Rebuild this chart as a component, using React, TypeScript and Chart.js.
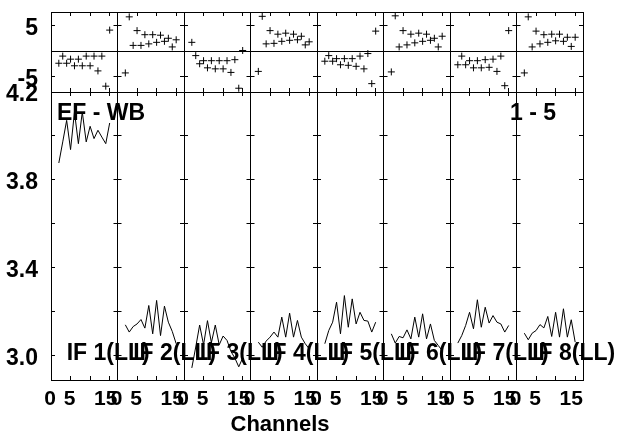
import React, { useEffect, useRef } from "react";
import { Chart, registerables } from "chart.js";

Chart.register(...registerables);

// ---------------- data ----------------
const CHANNELS = [2, 3, 4, 5, 6, 7, 8, 9, 10, 11, 12, 13, 14, 15];

const IF_LABELS = ["IF 1(LL)", "IF 2(LL)", "IF 3(LL)", "IF 4(LL)", "IF 5(LL)", "IF 6(LL)", "IF 7(LL)", "IF 8(LL)"];
const SOURCE_LABEL = "EF - WB";
const BASELINE_LABEL = "1 - 5";
const X_TITLE = "Channels";

// phase (degrees) per IF, channels 2..15
const PHASE_IF1 = [-2.4, -1.0, -2.4, -1.6, -2.9, -1.6, -2.9, -1.0, -2.9, -1.0, -3.9, -1.0, -6.9, 4.1];
const PHASE_IF2 = [-4.3, 6.7, 1.1, 4.0, 1.1, 3.2, 1.4, 3.2, 1.7, 3.1, 1.9, 2.5, 0.8, 2.2];
const PHASE_IF3 = [1.7, -0.9, -2.5, -1.9, -3.3, -1.9, -3.5, -1.9, -3.5, -1.9, -4.2, -1.7, -7.3, 0.1];
const PHASE_IF4 = [-4.0, 6.8, 1.4, 4.0, 1.5, 3.3, 1.9, 3.5, 2.1, 3.3, 2.2, 2.9, 1.2, 1.8];
const PHASE_IF5 = [-2.0, -0.9, -2.0, -1.5, -2.7, -1.5, -2.8, -1.5, -3.0, -1.0, -3.5, -0.5, -6.4, 3.9];
const PHASE_IF6 = [-4.1, 6.9, 0.8, 4.0, 1.2, 3.3, 1.6, 3.5, 1.9, 3.3, 2.1, 2.5, 0.8, 2.9];
const PHASE_IF7 = [-2.7, -1.0, -2.7, -1.9, -3.3, -1.9, -3.3, -1.7, -3.2, -1.6, -4.0, -1.0, -6.8, 4.0];
const PHASE_IF8 = [-4.3, 6.7, 0.8, 3.9, 1.4, 3.2, 1.7, 3.3, 2.0, 3.3, 1.9, 2.7, 0.9, 2.7];

// amplitude per IF, channels 2..15
const AMP_IF1 = [3.877, 3.973, 4.071, 3.938, 4.109, 3.965, 4.109, 3.973, 4.044, 3.988, 4.026, 3.995, 3.965, 4.059];
const AMP_IF2 = [3.141, 3.108, 3.133, 3.145, 3.165, 3.126, 3.229, 3.1, 3.252, 3.092, 3.226, 3.153, 3.111, 3.055];
const AMP_IF3 = [2.945, 3.04, 3.14, 3.05, 3.16, 3.06, 3.14, 3.05, 3.09, 3.07, 3.02, 2.99, 2.95, 2.99];
const AMP_IF4 = [3.062, 3.039, 3.067, 3.085, 3.108, 3.085, 3.176, 3.085, 3.194, 3.085, 3.161, 3.085, 3.055, 3.032];
const AMP_IF5 = [3.055, 3.115, 3.153, 3.244, 3.1, 3.274, 3.13, 3.259, 3.145, 3.198, 3.161, 3.158, 3.108, 3.153];
const AMP_IF6 = [3.1, 3.058, 3.088, 3.082, 3.118, 3.077, 3.176, 3.085, 3.191, 3.077, 3.145, 3.07, 3.047, 3.024];
const AMP_IF7 = [3.058, 3.092, 3.138, 3.198, 3.123, 3.255, 3.13, 3.221, 3.149, 3.183, 3.153, 3.145, 3.108, 3.138];
const AMP_IF8 = [3.103, 3.073, 3.103, 3.115, 3.142, 3.127, 3.179, 3.088, 3.198, 3.085, 3.214, 3.085, 3.164, 3.062];

const PHASE_SERIES = [PHASE_IF1, PHASE_IF2, PHASE_IF3, PHASE_IF4, PHASE_IF5, PHASE_IF6, PHASE_IF7, PHASE_IF8];
const AMP_SERIES = [AMP_IF1, AMP_IF2, AMP_IF3, AMP_IF4, AMP_IF5, AMP_IF6, AMP_IF7, AMP_IF8];

// axes
const X_MIN = 0;
const X_MAX = 17;
const X_TICKS = [0, 5, 10, 15];
const X_TICK_LABELS = ["0", "5", "", "15"];

const AMP_MIN = 2.89;
const AMP_MAX = 4.2;
const AMP_TICKS = [3.0, 3.2, 3.4, 3.6, 3.8, 4.0, 4.2];
const AMP_TICK_LABELS = ["3.0", "", "3.4", "", "3.8", "", "4.2"];

const PHASE_MIN = -8.04;
const PHASE_MAX = 7.65;
const PHASE_TICKS = [-5, 0, 5];
const PHASE_TICK_LABELS = ["-5", "", "5"];

// ---------------- layout / style ----------------
const W = 620;
const H = 434;
const PLOT_LEFT = 51;
const PANEL_W = 66.5;
const N_PANELS = 8;
const PHASE_TOP = 12;
const SPLIT_Y = 92;
const AMP_BOTTOM = 380;
const TICK_LEN = 4;
const FAMILY = "'Liberation Sans', Arial, Helvetica, sans-serif";
const X_TICK_FONT = { family: FAMILY, size: 21, weight: "bold" as const };
const Y_TICK_FONT = { family: FAMILY, size: 23, weight: "bold" as const };
const TEXT_FONT = `bold 23px ${FAMILY}`;
const TITLE_FONT = `bold 22px ${FAMILY}`;

function makeAxis(
  axis: "x" | "y",
  position: string,
  min: number,
  max: number,
  ticks: number[],
  labels: string[] | null,
  pad: number,
  zeroLine: boolean,
  size: number
) {
  const isX = axis === "x";
  return {
    type: "linear",
    axis,
    position,
    min,
    max,
    bounds: "data",
    afterBuildTicks: (s: any) => {
      s.ticks = ticks.map((v) => ({ value: v }));
    },
    afterFit: (s: any) => {
      if (s.isHorizontal()) s.height = size;
      else s.width = size;
      s.paddingLeft = 0;
      s.paddingRight = 0;
      s.paddingTop = 0;
      s.paddingBottom = 0;
    },
    grid: {
      display: true,
      drawOnChartArea: zeroLine,
      drawTicks: true,
      tickLength: -TICK_LEN,
      lineWidth: 1,
      color: (ctx: any) =>
        zeroLine && ctx.tick && Math.abs(ctx.tick.value) < 1e-9 ? "#000" : "rgba(0,0,0,0)",
      tickColor: "#000",
      tickWidth: 1,
    },
    border: { display: true, color: "#000", width: 1 },
    ticks: {
      display: !!labels,
      autoSkip: false,
      maxRotation: 0,
      minRotation: 0,
      padding: pad,
      labelOffset: isX ? -1 : 3,
      color: "#000",
      font: isX ? X_TICK_FONT : Y_TICK_FONT,
      callback: (_v: any, idx: number) => {
        if (!labels) return "";
        const s = labels[idx] ?? "";
        // two-digit x labels sit a little left of their tick in the original
        return isX && s.length > 1 ? s + " " : s;
      },
    },
  };
}

function textPlugin(i: number) {
  return {
    id: "panelText",
    afterDraw(chart: any) {
      const { ctx, chartArea } = chart;
      ctx.save();
      ctx.fillStyle = "#000";
      ctx.font = TEXT_FONT;
      ctx.textBaseline = "alphabetic";
      ctx.textAlign = "left";
      ctx.fillText(IF_LABELS[i], chartArea.left + 15.7, chartArea.bottom - 20);
      if (i === 0) {
        ctx.fillText(SOURCE_LABEL, chartArea.left + 6, chartArea.top + 28);
        ctx.textAlign = "right";
        ctx.fillText(BASELINE_LABEL, PLOT_LEFT + PANEL_W * N_PANELS - 27, chartArea.top + 28);
        ctx.textAlign = "center";
        ctx.font = TITLE_FONT;
        ctx.fillText(X_TITLE, 280, 431);
      }
      ctx.restore();
    },
  };
}

function buildConfig(isPhase: boolean, i: number) {
  const left = PLOT_LEFT + PANEL_W * i;
  const right = left + PANEL_W;
  const top = isPhase ? PHASE_TOP : SPLIT_Y;
  const bottom = isPhase ? SPLIT_Y : AMP_BOTTOM;
  const yMin = isPhase ? PHASE_MIN : AMP_MIN;
  const yMax = isPhase ? PHASE_MAX : AMP_MAX;
  const yTicks = isPhase ? PHASE_TICKS : AMP_TICKS;
  const yLabels = isPhase ? PHASE_TICK_LABELS : AMP_TICK_LABELS;
  const values = isPhase ? PHASE_SERIES[i] : AMP_SERIES[i];
  const data = CHANNELS.map((c, k) => ({ x: c, y: values[k] }));
  const dataset = isPhase
    ? {
        data,
        showLine: false,
        pointStyle: "cross",
        pointRadius: 3.5,
        pointBorderWidth: 1,
        borderColor: "#000",
        backgroundColor: "#000",
      }
    : {
        data,
        showLine: true,
        borderColor: "#000",
        backgroundColor: "#000",
        borderWidth: 1,
        pointRadius: 0,
        tension: 0,
        fill: false,
      };

  // axis box sizes: labelled axes get a real box (labels are clipped to it)
  const leftSize = i === 0 ? left : 0;
  const bottomSize = isPhase ? 0 : H - bottom;

  return {
    type: "scatter",
    data: { datasets: [dataset] },
    options: {
      responsive: false,
      animation: false,
      events: [],
      layout: {
        autoPadding: false,
        padding: {
          left: left - leftSize,
          right: W - right,
          top,
          bottom: H - bottom - bottomSize,
        },
      },
      plugins: { legend: { display: false }, tooltip: { enabled: false } },
      scales: {
        x: makeAxis("x", "bottom", X_MIN, X_MAX, X_TICKS, isPhase ? null : X_TICK_LABELS, 11, false, bottomSize),
        x2: makeAxis("x", "top", X_MIN, X_MAX, X_TICKS, null, 0, false, 0),
        y: makeAxis("y", "left", yMin, yMax, yTicks, i === 0 ? yLabels : null, 17, isPhase, leftSize),
        y2: makeAxis("y", "right", yMin, yMax, yTicks, null, 0, false, 0),
      },
    },
    plugins: isPhase ? [] : [textPlugin(i)],
  };
}

export default function App() {
  const refs = useRef<(HTMLCanvasElement | null)[]>([]);

  useEffect(() => {
    const charts: Chart[] = [];
    for (let row = 0; row < 2; row++) {
      for (let i = 0; i < N_PANELS; i++) {
        const canvas = refs.current[row * N_PANELS + i];
        if (!canvas) continue;
        charts.push(new Chart(canvas, buildConfig(row === 0, i) as any));
      }
    }
    return () => {
      charts.forEach((c) => c.destroy());
    };
  }, []);

  return (
    <div style={{ position: "fixed", left: 0, top: 0, width: W, height: H, background: "#fff" }}>
      {Array.from({ length: N_PANELS * 2 }, (_, k) => (
        <canvas
          key={k}
          ref={(el) => {
            refs.current[k] = el;
          }}
          width={W}
          height={H}
          style={{ position: "absolute", left: 0, top: 0 }}
        />
      ))}
    </div>
  );
}
